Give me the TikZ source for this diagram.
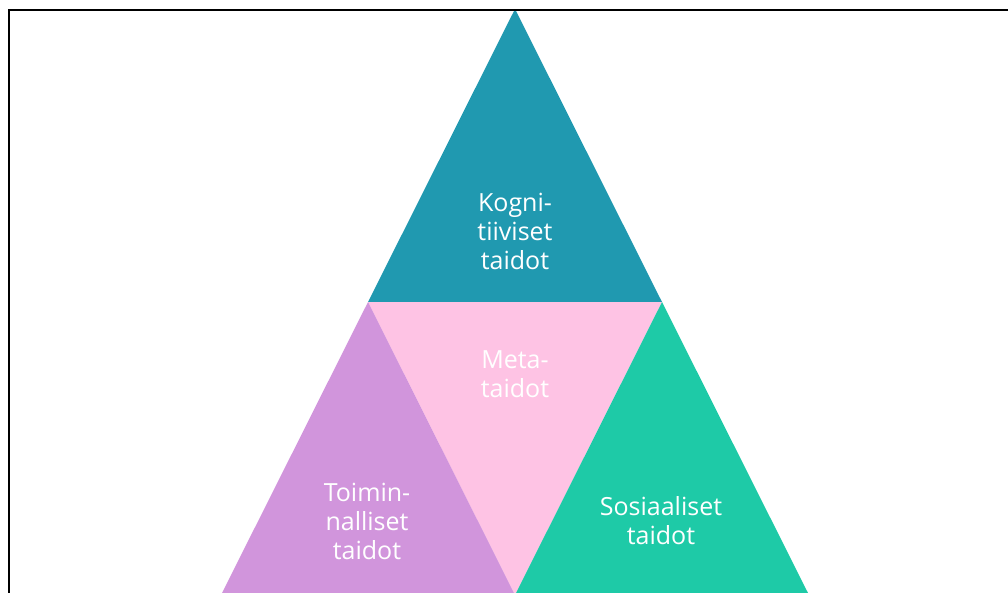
\documentclass[tikz,border=0pt]{standalone}
\usepackage{fontspec}
\setmainfont{Open Sans}
\definecolor{kteal}{HTML}{2099B0}
\definecolor{mpink}{HTML}{FEC3E4}
\definecolor{tpurple}{HTML}{D195DC}
\definecolor{sgreen}{HTML}{1ECAA7}
\begin{document}
\begin{tikzpicture}[x=1pt,y=-1pt,
  lbl/.style={text=white,align=center,font=\fontsize{25}{29}\selectfont,inner sep=0pt}]
\useasboundingbox (0,0) rectangle (1008,592);
\clip (0,0) rectangle (1008,592);
\coordinate (apex) at (515,9);
\coordinate (ml) at (368,302);
\coordinate (mr) at (662,302);
\coordinate (bl) at (221,595);
\coordinate (bm) at (515,595);
\coordinate (br) at (809,595);
\fill[kteal] (apex) -- (ml) -- (mr) -- cycle;
\fill[mpink] (ml) -- (mr) -- (bm) -- cycle;
\fill[tpurple] (ml) -- (bl) -- (bm) -- cycle;
\fill[sgreen] (mr) -- (bm) -- (br) -- cycle;
\draw[line width=2.5pt] (9,600) -- (9,10) -- (1015,10);
\node[lbl] (kog) at (515,231) {Kogni-\\tiiviset\\taidot};
\node[lbl] (meta) at (515,374) {Meta-\\taidot};
\node[lbl] (toim) at (367,521) {Toimin-\\nalliset\\taidot};
\node[lbl] (sos) at (661,521) {Sosiaaliset\\taidot};
\end{tikzpicture}
\end{document}
